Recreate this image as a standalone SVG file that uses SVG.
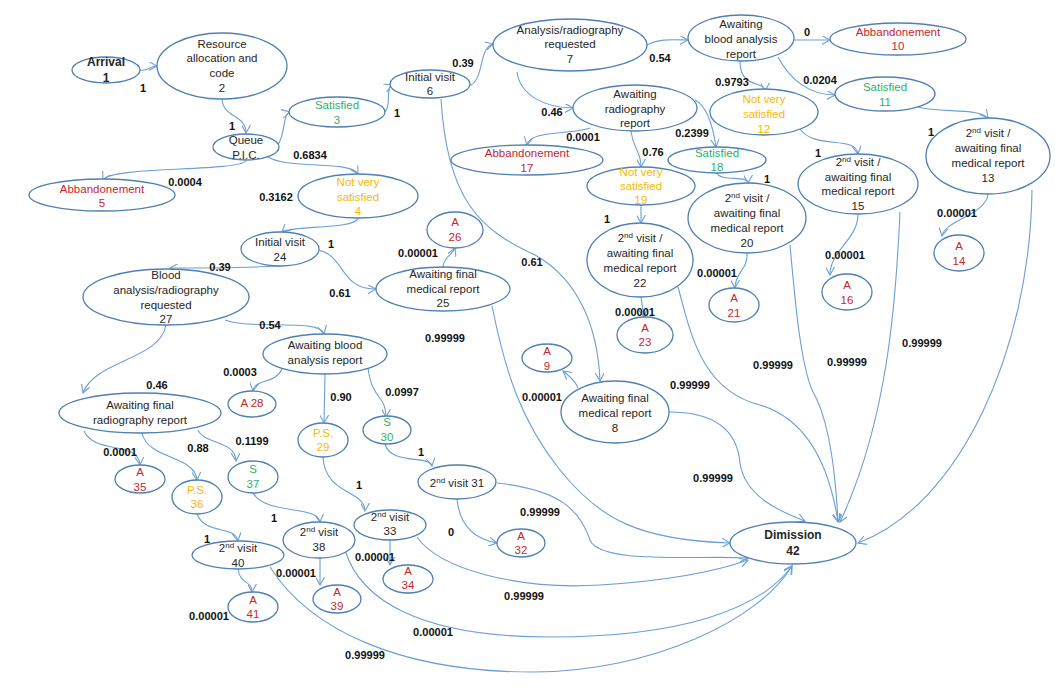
<svg xmlns="http://www.w3.org/2000/svg" width="1055" height="693" viewBox="0 0 1055 693">
<style>
.n ellipse{fill:#fff;stroke:#4f7fb3;stroke-width:1.3}
.n text{font-family:"Liberation Sans",Arial,sans-serif;font-size:11.5px;fill:#262626;text-anchor:middle}
.n text.b{font-weight:bold;font-size:12px}
.n text.r{fill:#c4262e}
.n text.g{fill:#2fb06a}
.n text.y{fill:#f7b900}
.c path{fill:none;stroke:#6b9fd6;stroke-width:1.1;marker-end:url(#a)}
.l text{font-family:"Liberation Sans",Arial,sans-serif;font-weight:bold;font-size:11px;fill:#111;text-anchor:middle}
tspan.s{font-size:8px}
</style>
<defs>
<marker id="a" viewBox="0 0 10 10" refX="9" refY="5" markerWidth="9" markerHeight="9" markerUnits="userSpaceOnUse" orient="auto">
<path d="M0,0 L9,5 L0,10" fill="none" stroke="#6b9fd6" stroke-width="1.2"/>
</marker>
</defs>
<rect width="1055" height="693" fill="#fff"/>
<g class="c" id="connectors">
<path d="M140,70 C147,72 150,66 157,66"/>
<path d="M222,98 C222,118 246,114 246,133"/>
<path d="M277,146 C286,136 282,114 290,112"/>
<path d="M246,161 C236,172 110,166 103,180"/>
<path d="M268,157 C290,170 350,160 358,174"/>
<path d="M385,112 C392,105 385,88 392,85"/>
<path d="M469,86 C485,80 478,48 493,44"/>
<path d="M647,45 C660,38 675,40 688,40"/>
<path d="M794,40 L830,40"/>
<path d="M740,61 C740,90 765,80 765,91"/>
<path d="M778,57 C790,80 810,95 835,95"/>
<path d="M918,107 C940,113 980,108 988,118"/>
<path d="M988,194 C986,215 945,220 942,236"/>
<path d="M800,129 C815,150 855,135 858,154"/>
<path d="M858,214 C858,240 830,250 830,275"/>
<path d="M517,72 C520,95 545,108 573,108"/>
<path d="M590,128 C570,135 530,130 527,145"/>
<path d="M631,131 C633,150 641,150 641,167"/>
<path d="M695,100 C705,105 712,120 716,147"/>
<path d="M717,173 C720,182 748,175 748,183"/>
<path d="M747,253 C748,270 735,272 735,288"/>
<path d="M641,205 L641,223"/>
<path d="M641,297 L644,317"/>
<path d="M441,99 C447,200 480,230 535,255 C580,280 598,330 600,381"/>
<path d="M578,388 C575,380 568,375 563,371"/>
<path d="M669,412 C725,412 738,440 740,463 C745,500 790,515 805,521"/>
<path d="M790,245 C795,300 800,360 812,390 C830,420 836,480 838,522"/>
<path d="M900,212 C896,300 888,420 840,522"/>
<path d="M1032,190 C1030,350 960,505 858,543"/>
<path d="M678,287 C690,330 700,390 760,405 C810,420 830,470 838,522"/>
<path d="M492,306 C505,370 520,420 560,470 C600,520 640,540 730,543"/>
<path d="M497,483 C560,490 580,510 590,540 C600,565 700,555 748,558"/>
<path d="M417,537 C440,570 520,590 600,585 C680,580 720,570 748,560"/>
<path d="M345,550 C360,600 420,637 550,637 C680,637 760,610 792,566"/>
<path d="M270,567 C310,630 400,672 533,672 C650,672 760,620 792,566"/>
<path d="M358,218 C355,230 290,225 282,232"/>
<path d="M318,250 C345,255 340,290 376,289"/>
<path d="M443,267 C443,258 452,255 455,248"/>
<path d="M280,266 C240,268 190,268 170,268"/>
<path d="M225,320 C250,330 320,318 324,334"/>
<path d="M166,325 C160,360 95,360 83,393"/>
<path d="M282,369 C275,385 255,378 253,391"/>
<path d="M325,374 L324,423"/>
<path d="M368,368 C372,400 386,395 386,417"/>
<path d="M385,444 C390,465 430,455 432,466"/>
<path d="M457,499 C460,530 480,540 497,543"/>
<path d="M84,431 C95,455 138,440 140,465"/>
<path d="M142,433 C148,460 195,455 197,480"/>
<path d="M198,430 C205,445 235,440 236,461"/>
<path d="M253,493 C265,515 318,505 320,522"/>
<path d="M197,514 C205,535 235,525 238,541"/>
<path d="M238,569 C240,585 252,580 252,592"/>
<path d="M320,558 L320,585"/>
<path d="M323,457 C325,495 365,490 365,511"/>
<path d="M390,540 L390,565"/>
</g>
<g class="l" id="labels">
<text x="143" y="92">1</text>
<text x="232" y="130">1</text>
<text x="310" y="159">0.6834</text>
<text x="185" y="186">0.0004</text>
<text x="276" y="201">0.3162</text>
<text x="397" y="117">1</text>
<text x="463" y="67">0.39</text>
<text x="660" y="62">0.54</text>
<text x="807" y="36">0</text>
<text x="732" y="86">0.9793</text>
<text x="820" y="84">0.0204</text>
<text x="931" y="136">1</text>
<text x="957" y="217">0.00001</text>
<text x="818" y="157">1</text>
<text x="845" y="259">0.00001</text>
<text x="552" y="116">0.46</text>
<text x="583" y="141">0.0001</text>
<text x="653" y="156">0.76</text>
<text x="692" y="137">0.2399</text>
<text x="767" y="183">1</text>
<text x="717" y="277">0.00001</text>
<text x="607" y="223">1</text>
<text x="635" y="316">0.00001</text>
<text x="532" y="266">0.61</text>
<text x="542" y="401">0.00001</text>
<text x="713" y="482">0.99999</text>
<text x="690" y="389">0.99999</text>
<text x="773" y="369">0.99999</text>
<text x="847" y="366">0.99999</text>
<text x="922" y="347">0.99999</text>
<text x="331" y="248">1</text>
<text x="340" y="297">0.61</text>
<text x="418" y="257">0.00001</text>
<text x="220" y="271">0.39</text>
<text x="270" y="329">0.54</text>
<text x="445" y="342">0.99999</text>
<text x="157" y="389">0.46</text>
<text x="240" y="376">0.0003</text>
<text x="341" y="401">0.90</text>
<text x="402" y="396">0.0997</text>
<text x="421" y="456">1</text>
<text x="451" y="536">0</text>
<text x="540" y="516">0.99999</text>
<text x="120" y="456">0.0001</text>
<text x="198" y="452">0.88</text>
<text x="252" y="445">0.1199</text>
<text x="274" y="522">1</text>
<text x="207" y="543">1</text>
<text x="209" y="620">0.00001</text>
<text x="296" y="577">0.00001</text>
<text x="359" y="489">1</text>
<text x="375" y="561">0.00001</text>
<text x="524" y="600">0.99999</text>
<text x="433" y="636">0.00001</text>
<text x="365" y="659">0.99999</text>
</g>
<g class="n" id="n1"><ellipse cx="106" cy="70" rx="34" ry="13"/><text class="b" x="106" y="66">Arrival</text><text class="b" x="106" y="82">1</text></g>
<g class="n" id="n2"><ellipse cx="222" cy="66" rx="65" ry="33"/><text x="222" y="48">Resource</text><text x="222" y="62">allocation and</text><text x="222" y="77">code</text><text x="222" y="92">2</text></g>
<g class="n" id="nQueue"><ellipse cx="246" cy="147" rx="33" ry="13"/><text x="246" y="144">Queue</text><text x="246" y="159">P.I.C.</text></g>
<g class="n" id="n3"><ellipse cx="337" cy="112" rx="48" ry="15"/><text class="g" x="337" y="109">Satisfied</text><text class="g" x="337" y="124">3</text></g>
<g class="n" id="n5"><ellipse cx="102" cy="195" rx="73" ry="16"/><text class="r" x="102" y="193">Abbandonement</text><text class="r" x="102" y="207">5</text></g>
<g class="n" id="n4"><ellipse cx="358" cy="196" rx="60" ry="22"/><text class="y" x="358" y="186">Not very</text><text class="y" x="358" y="201">satisfied</text><text class="y" x="358" y="215">4</text></g>
<g class="n" id="n6"><ellipse cx="430" cy="84" rx="40" ry="14"/><text x="430" y="81">Initial visit</text><text x="430" y="95">6</text></g>
<g class="n" id="n7"><ellipse cx="570" cy="45" rx="77" ry="26"/><text x="570" y="34">Analysis/radiography</text><text x="570" y="48">requested</text><text x="570" y="63">7</text></g>
<g class="n" id="nBlood1"><ellipse cx="741" cy="38" rx="53" ry="23"/><text x="741" y="28">Awaiting</text><text x="741" y="43">blood analysis</text><text x="741" y="58">report</text></g>
<g class="n" id="n10"><ellipse cx="898" cy="39" rx="68" ry="16"/><text class="r" x="898" y="36">Abbandonement</text><text class="r" x="898" y="50">10</text></g>
<g class="n" id="n12"><ellipse cx="764" cy="112" rx="54" ry="23"/><text class="y" x="764" y="103">Not very</text><text class="y" x="764" y="118">satisfied</text><text class="y" x="764" y="133">12</text></g>
<g class="n" id="n11"><ellipse cx="885" cy="94" rx="50" ry="17"/><text class="g" x="885" y="91">Satisfied</text><text class="g" x="885" y="106">11</text></g>
<g class="n" id="n13"><ellipse cx="988" cy="156" rx="62" ry="38"/><text x="988" y="137">2<tspan class="s" dy="-4">nd</tspan><tspan dy="4"> visit /</tspan></text><text x="988" y="152">awaiting final</text><text x="988" y="167">medical report</text><text x="988" y="182">13</text></g>
<g class="n" id="n14"><ellipse cx="959" cy="253" rx="25" ry="18"/><text class="r" x="959" y="250">A</text><text class="r" x="959" y="265">14</text></g>
<g class="n" id="n15"><ellipse cx="858" cy="184" rx="60" ry="30"/><text x="858" y="166">2<tspan class="s" dy="-4">nd</tspan><tspan dy="4"> visit /</tspan></text><text x="858" y="181">awaiting final</text><text x="858" y="195">medical report</text><text x="858" y="210">15</text></g>
<g class="n" id="n16"><ellipse cx="847" cy="292" rx="25" ry="18"/><text class="r" x="847" y="289">A</text><text class="r" x="847" y="304">16</text></g>
<g class="n" id="nRadio"><ellipse cx="635" cy="108" rx="62" ry="23"/><text x="635" y="98">Awaiting</text><text x="635" y="113">radiography</text><text x="635" y="127">report</text></g>
<g class="n" id="n17"><ellipse cx="527" cy="160" rx="76" ry="15"/><text class="r" x="527" y="157">Abbandonement</text><text class="r" x="527" y="172">17</text></g>
<g class="n" id="n19"><ellipse cx="641" cy="186" rx="54" ry="19"/><text class="y" x="641" y="176">Not very</text><text class="y" x="641" y="190">satisfied</text><text class="y" x="641" y="204">19</text></g>
<g class="n" id="n18"><ellipse cx="717" cy="160" rx="49" ry="13"/><text class="g" x="717" y="157">Satisfied</text><text class="g" x="717" y="171">18</text></g>
<g class="n" id="n20"><ellipse cx="747" cy="218" rx="59" ry="35"/><text x="747" y="202">2<tspan class="s" dy="-4">nd</tspan><tspan dy="4"> visit /</tspan></text><text x="747" y="217">awaiting final</text><text x="747" y="232">medical report</text><text x="747" y="247">20</text></g>
<g class="n" id="n21"><ellipse cx="734" cy="305" rx="25" ry="17"/><text class="r" x="734" y="302">A</text><text class="r" x="734" y="317">21</text></g>
<g class="n" id="n22"><ellipse cx="640" cy="260" rx="53" ry="37"/><text x="640" y="242">2<tspan class="s" dy="-4">nd</tspan><tspan dy="4"> visit /</tspan></text><text x="640" y="257">awaiting final</text><text x="640" y="272">medical report</text><text x="640" y="287">22</text></g>
<g class="n" id="n23"><ellipse cx="645" cy="335" rx="28" ry="18"/><text class="r" x="645" y="332">A</text><text class="r" x="645" y="346">23</text></g>
<g class="n" id="n8"><ellipse cx="615" cy="412" rx="54" ry="31"/><text x="615" y="402">Awaiting final</text><text x="615" y="417">medical report</text><text x="615" y="432">8</text></g>
<g class="n" id="n9"><ellipse cx="547" cy="358" rx="25" ry="14"/><text class="r" x="547" y="355">A</text><text class="r" x="547" y="370">9</text></g>
<g class="n" id="n25"><ellipse cx="443" cy="289" rx="67" ry="22"/><text x="443" y="278">Awaiting final</text><text x="443" y="293">medical report</text><text x="443" y="307">25</text></g>
<g class="n" id="n26"><ellipse cx="455" cy="230" rx="28" ry="18"/><text class="r" x="455" y="226">A</text><text class="r" x="455" y="241">26</text></g>
<g class="n" id="n24"><ellipse cx="280" cy="249" rx="39" ry="17"/><text x="280" y="246">Initial visit</text><text x="280" y="261">24</text></g>
<g class="n" id="n27"><ellipse cx="166" cy="297" rx="83" ry="28"/><text x="166" y="279">Blood</text><text x="166" y="294">analysis/radiography</text><text x="166" y="309">requested</text><text x="166" y="323">27</text></g>
<g class="n" id="nBlood2"><ellipse cx="325" cy="354" rx="62" ry="20"/><text x="325" y="349">Awaiting blood</text><text x="325" y="364">analysis report</text></g>
<g class="n" id="n28"><ellipse cx="252" cy="404" rx="24" ry="13"/><text class="r" x="252" y="407">A 28</text></g>
<g class="n" id="n29"><ellipse cx="323" cy="440" rx="25" ry="17"/><text class="y" x="323" y="437">P.S.</text><text class="y" x="323" y="451">29</text></g>
<g class="n" id="n30"><ellipse cx="387" cy="430" rx="24" ry="14"/><text class="g" x="387" y="426">S</text><text class="g" x="387" y="441">30</text></g>
<g class="n" id="n31"><ellipse cx="457" cy="482" rx="39" ry="17"/><text x="457" y="487">2<tspan class="s" dy="-4">nd</tspan><tspan dy="4"> visit 31</tspan></text></g>
<g class="n" id="n32"><ellipse cx="521" cy="543" rx="24" ry="14"/><text class="r" x="521" y="540">A</text><text class="r" x="521" y="554">32</text></g>
<g class="n" id="nRadio2"><ellipse cx="140" cy="413" rx="81" ry="20"/><text x="140" y="409">Awaiting final</text><text x="140" y="424">radiography report</text></g>
<g class="n" id="n35"><ellipse cx="140" cy="479" rx="25" ry="14"/><text class="r" x="140" y="476">A</text><text class="r" x="140" y="491">35</text></g>
<g class="n" id="n36"><ellipse cx="197" cy="497" rx="25" ry="17"/><text class="y" x="197" y="494">P.S.</text><text class="y" x="197" y="508">36</text></g>
<g class="n" id="n37"><ellipse cx="253" cy="477" rx="25" ry="16"/><text class="g" x="253" y="473">S</text><text class="g" x="253" y="488">37</text></g>
<g class="n" id="n38"><ellipse cx="319" cy="540" rx="36" ry="18"/><text x="319" y="536">2<tspan class="s" dy="-4">nd</tspan><tspan dy="4"> visit</tspan></text><text x="319" y="551">38</text></g>
<g class="n" id="n39"><ellipse cx="337" cy="599" rx="24" ry="14"/><text class="r" x="337" y="596">A</text><text class="r" x="337" y="610">39</text></g>
<g class="n" id="n40"><ellipse cx="238" cy="555" rx="46" ry="14"/><text x="238" y="552">2<tspan class="s" dy="-4">nd</tspan><tspan dy="4"> visit</tspan></text><text x="238" y="567">40</text></g>
<g class="n" id="n41"><ellipse cx="253" cy="607" rx="25" ry="15"/><text class="r" x="253" y="604">A</text><text class="r" x="253" y="618">41</text></g>
<g class="n" id="n33"><ellipse cx="390" cy="525" rx="36" ry="15"/><text x="390" y="521">2<tspan class="s" dy="-4">nd</tspan><tspan dy="4"> visit</tspan></text><text x="390" y="535">33</text></g>
<g class="n" id="n34"><ellipse cx="408" cy="579" rx="25" ry="14"/><text class="r" x="408" y="575">A</text><text class="r" x="408" y="589">34</text></g>
<g class="n" id="n42"><ellipse cx="793" cy="543" rx="63" ry="21"/><text class="b" x="793" y="539">Dimission</text><text class="b" x="793" y="555">42</text></g>
</svg>
